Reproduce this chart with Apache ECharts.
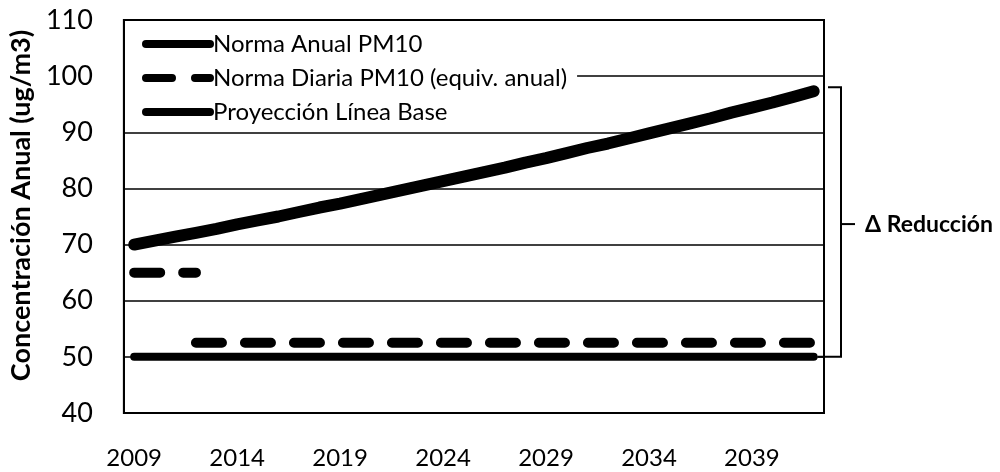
<!DOCTYPE html>
<html>
<head>
<meta charset="utf-8">
<script src="https://cdn.jsdelivr.net/npm/echarts@6/dist/echarts.min.js"></script>
<style>
  html, body { margin: 0; padding: 0; background: #fff; }
  #chart { width: 1000px; height: 472px; }
</style>
</head>
<body>
<div id="chart"></div>
<script>
// years on the x axis (category)
const years = [
  '2009', '2010', '2011', '2012', '2013', '2014', '2015', '2016', '2017', '2018',
  '2019', '2020', '2021', '2022', '2023', '2024', '2025', '2026', '2027', '2028',
  '2029', '2030', '2031', '2032', '2033', '2034', '2035', '2036', '2037', '2038',
  '2039', '2040', '2041', '2042'
]

// Norma Anual PM10 (flat 50)
const normaAnual = [
  50, 50, 50, 50, 50, 50, 50, 50, 50, 50,
  50, 50, 50, 50, 50, 50, 50, 50, 50, 50,
  50, 50, 50, 50, 50, 50, 50, 50, 50, 50,
  50, 50, 50, 50
]

// Norma Diaria PM10 (equiv. anual): first stretch at 65, then 52.5
const normaDiariaInicial = [
  65, 65, 65, 65, null, null, null, null, null, null,
  null, null, null, null, null, null, null, null, null, null,
  null, null, null, null, null, null, null, null, null, null,
  null, null, null, null
]
const normaDiaria = [
  null, null, null, 52.5, 52.5, 52.5, 52.5, 52.5, 52.5, 52.5,
  52.5, 52.5, 52.5, 52.5, 52.5, 52.5, 52.5, 52.5, 52.5, 52.5,
  52.5, 52.5, 52.5, 52.5, 52.5, 52.5, 52.5, 52.5, 52.5, 52.5,
  52.5, 52.5, 52.5, 52.5
]

// Proyección Línea Base
const proyeccion = [
  70.0, 70.7, 71.4, 72.1, 72.8, 73.6, 74.3, 75.0, 75.8, 76.6,
  77.3, 78.1, 78.9, 79.7, 80.5, 81.3, 82.1, 82.9, 83.7, 84.6,
  85.4, 86.3, 87.2, 88.0, 88.9, 89.8, 90.7, 91.6, 92.5, 93.5,
  94.4, 95.3, 96.3, 97.3
]

const yTicks = { min: 40, max: 110, interval: 10 }

const nameAnual = 'Norma Anual PM10'
const nameDiaria = 'Norma Diaria PM10 (equiv. anual)'
const nameProy = 'Proyección Línea Base'

const font = 'Lato, "Noto Sans", sans-serif'
const gridLeft = 123
const gridRight = 176

const chart = echarts.init(document.getElementById('chart'))

chart.setOption({
  backgroundColor: '#fff',
  animation: false,
  textStyle: { fontFamily: font, color: '#000' },
  grid: { left: gridLeft, right: gridRight, top: 20, bottom: 59, show: true, borderColor: '#000', borderWidth: 2 },
  legend: {
    orient: 'vertical',
    left: gridLeft + 2,
    top: 21,
    padding: [11, 10, 4, 17],
    backgroundColor: '#fff',
    itemWidth: 64,
    itemHeight: 14,
    itemGap: 10,
    selectedMode: false,
    itemStyle: { opacity: 0 },
    lineStyle: { width: 8, cap: 'round' },
    textStyle: { fontFamily: font, fontSize: 24, lineHeight: 24, color: '#000', padding: [0, 0, 0, -2] },
    data: [nameAnual, nameDiaria, nameProy]
  },
  xAxis: {
    type: 'category',
    data: years,
    boundaryGap: true,
    axisLine: { lineStyle: { color: '#000', width: 2 } },
    axisTick: { show: false },
    axisLabel: { interval: 4, margin: 33, fontSize: 24, color: '#000', fontFamily: font },
    splitLine: { show: false }
  },
  yAxis: {
    type: 'value',
    min: yTicks.min,
    max: yTicks.max,
    interval: yTicks.interval,
    name: 'Concentración Anual (ug/m3)',
    nameLocation: 'middle',
    nameGap: 75,
    nameTextStyle: { fontSize: 27, fontWeight: 'bold', color: '#000', fontFamily: font, padding: [0, 0, 0, 22] },
    axisLine: { show: true, lineStyle: { color: '#000', width: 2 } },
    axisTick: { show: false },
    axisLabel: { margin: 31, fontSize: 27, color: '#000', fontFamily: font },
    splitLine: { lineStyle: { color: '#000', width: 1.5 } }
  },
  series: [
    {
      name: nameAnual,
      type: 'line',
      data: normaAnual,
      symbol: 'none',
      z: 3,
      lineStyle: { color: '#000', width: 8, cap: 'round' },
      itemStyle: { color: '#000' }
    },
    {
      name: nameDiaria,
      type: 'line',
      data: normaDiariaInicial,
      symbol: 'none',
      z: 4,
      lineStyle: { color: '#000', width: 10, type: [26, 23], cap: 'round' },
      itemStyle: { color: '#000' }
    },
    {
      name: nameDiaria,
      type: 'line',
      data: normaDiaria,
      symbol: 'none',
      z: 4,
      lineStyle: { color: '#000', width: 10, type: [26, 23], cap: 'round' },
      itemStyle: { color: '#000' }
    },
    {
      name: nameProy,
      type: 'line',
      data: proyeccion,
      symbol: 'none',
      z: 5,
      lineStyle: { color: '#000', width: 12, cap: 'round' },
      itemStyle: { color: '#000' }
    }
  ]
})

// bracket annotation: from last projection value down to the annual norm
const yTop = chart.convertToPixel({ yAxisIndex: 0 }, proyeccion[proyeccion.length - 1])
const yBot = chart.convertToPixel({ yAxisIndex: 0 }, normaAnual[normaAnual.length - 1])
const yMid = (yTop + yBot) / 2
const xEdge = 1000 - gridRight + 4
const xBr = xEdge + 13

chart.setOption({
  graphic: [
    {
      type: 'polyline',
      shape: { points: [[xEdge, yTop - 4], [xBr, yTop - 4], [xBr, yBot], [xEdge - 10, yBot]] },
      style: { stroke: '#000', lineWidth: 2, fill: null }
    },
    {
      type: 'line',
      shape: { x1: xBr, y1: yMid, x2: xBr + 14, y2: yMid },
      style: { stroke: '#000', lineWidth: 2 }
    },
    {
      type: 'text',
      x: xBr + 24,
      y: yMid,
      style: {
        text: 'Δ Reducción',
        fontFamily: font,
        fontSize: 23,
        fontWeight: 'bold',
        fill: '#000',
        verticalAlign: 'middle'
      }
    }
  ]
})
</script>
</body>
</html>
